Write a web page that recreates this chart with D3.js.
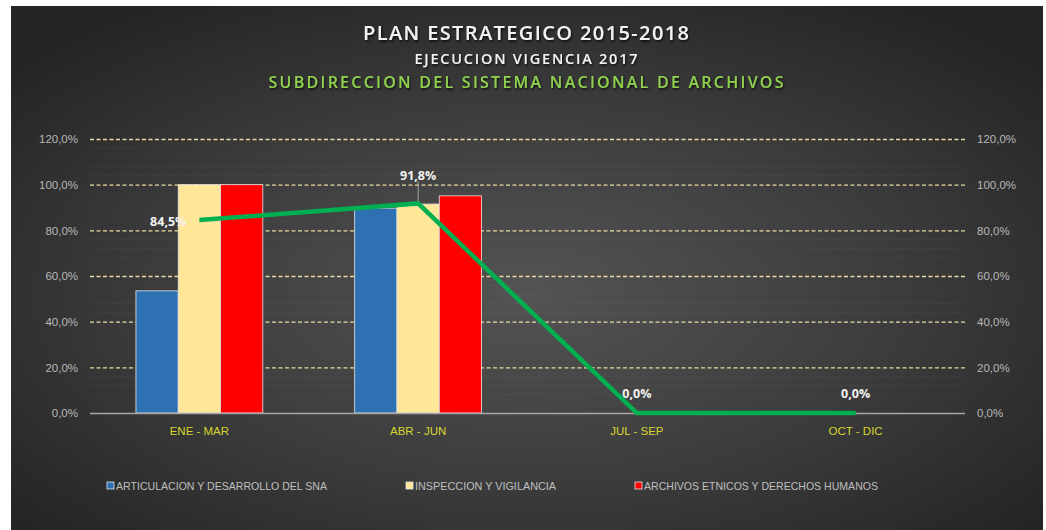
<!DOCTYPE html>
<html><head><meta charset="utf-8">
<script src="https://cdn.jsdelivr.net/npm/d3@7/dist/d3.min.js"></script>
<style>
html,body{margin:0;padding:0;background:#fff;}
svg{display:block;}
.lbl{font-family:"Liberation Sans Narrow","Arial Narrow","Liberation Sans",sans-serif;}
</style></head><body>
<svg id="chart" width="1046" height="530"></svg>
<script>
const categories = ["ENE - MAR", "ABR - JUN", "JUL - SEP", "OCT - DIC"];
const seriesNames = ["ARTICULACION Y DESARROLLO DEL SNA", "INSPECCION Y VIGILANCIA", "ARCHIVOS ETNICOS Y DERECHOS HUMANOS"];
const articulacion = [53.5, 89.7, null, null];
const inspeccion = [100, 91.5, null, null];
const archivos = [100, 95.1, null, null];
const total = [84.5, 91.8, 0, 0];
const totalLabels = ["84,5%", "91,8%", "0,0%", "0,0%"];
const yTicks = [0, 20, 40, 60, 80, 100, 120];
const colors = ["#2e71b3", "#ffe699", "#ff0000"];

const svg = d3.select("#chart");
const defs = svg.append("defs");
const rg = defs.append("radialGradient").attr("id","bg").attr("cx","50%").attr("cy","55%").attr("r","65%");
rg.append("stop").attr("offset","0%").attr("stop-color","#535353");
rg.append("stop").attr("offset","55%").attr("stop-color","#3c3c3c");
rg.append("stop").attr("offset","100%").attr("stop-color","#252525");
const sh = defs.append("filter").attr("id","shadow").attr("x","-10%").attr("y","-50%").attr("width","120%").attr("height","200%");
sh.append("feDropShadow").attr("dx",1).attr("dy",1.5).attr("stdDeviation",1.2).attr("flood-color","#000").attr("flood-opacity",0.8);

svg.append("rect").attr("x",11).attr("y",6).attr("width",1032).attr("height",524).attr("fill","url(#bg)");

// Titles
const titles = [
  {t:"PLAN ESTRATEGICO 2015-2018", y:40, size:20, len:326, fill:"#f2f2f2"},
  {t:"EJECUCION VIGENCIA 2017", y:64, size:14.5, len:223, fill:"#f2f2f2"},
  {t:"SUBDIRECCION DEL SISTEMA NACIONAL DE ARCHIVOS", y:88, size:16, len:515, fill:"#8fd14f"}
];
svg.append("g").selectAll("text").data(titles).join("text")
  .attr("x",526).attr("y",d=>d.y).attr("text-anchor","middle")
  .attr("font-family","'Open Sans',sans-serif").attr("font-weight","600").attr("font-size",d=>d.size)
  .attr("fill",d=>d.fill).attr("textLength",d=>d.len).attr("lengthAdjust","spacing")
  .attr("filter","url(#shadow)").text(d=>d.t);

const x0 = 90, x1 = 965;
const x = d3.scaleBand().domain(categories).range([x0, x1]).paddingInner(0).paddingOuter(0);
const y = d3.scaleLinear().domain([0, 120]).range([413, 139]);
const xs = d3.scaleBand().domain(seriesNames).range([0, x.bandwidth()*0.58]);
const groupOffset = x.bandwidth()*0.21;

// faint minor stripes
const minor = d3.range(4, 120, 4).filter(v => v % 20 !== 0);
svg.append("g").selectAll("line").data(minor).join("line")
  .attr("x1", x0).attr("x2", x1).attr("y1", d=>y(d)).attr("y2", d=>y(d))
  .attr("stroke","#ffffff").attr("stroke-opacity",0.035);

// grid lines
svg.append("g").selectAll("line").data(yTicks.filter(d=>d>0)).join("line")
  .attr("x1", x0).attr("x2", x1).attr("y1", d=>y(d)+0.5).attr("y2", d=>y(d)+0.5)
  .attr("stroke","#e9dba0").attr("stroke-width",1.3).attr("stroke-dasharray","4,2.5");

// axis labels via d3 axes
const fmt = d => d3.format(".1f")(d).replace(".", ",") + "%";
const yl = svg.append("g").attr("transform",`translate(${x0},0)`)
  .call(d3.axisLeft(y).tickValues(yTicks).tickFormat(fmt).tickSize(0).tickPadding(12));
const yr = svg.append("g").attr("transform",`translate(${x1},0)`)
  .call(d3.axisRight(y).tickValues(yTicks).tickFormat(fmt).tickSize(0).tickPadding(12));
[yl, yr].forEach(g => {
  g.select(".domain").remove();
  g.selectAll("text").attr("class","lbl").attr("font-size",11.5).attr("fill","#b8b8b8");
});

// bars
const series = [articulacion, inspeccion, archivos];
const barG = svg.append("g");
series.forEach((vals, si) => {
  barG.append("g").selectAll("rect")
    .data(categories.map((c,i)=>({c, v: vals[i]})).filter(d=>d.v!=null))
    .join("rect")
    .attr("x", d => x(d.c) + groupOffset + xs(seriesNames[si]))
    .attr("y", d => y(d.v))
    .attr("width", xs.bandwidth())
    .attr("height", d => y(0) - y(d.v))
    .attr("fill", colors[si]).attr("stroke","#e6e6e6").attr("stroke-width",0.8);
});

// zero axis line
svg.append("line").attr("x1",x0).attr("x2",x1).attr("y1",y(0)+0.5).attr("y2",y(0)+0.5)
  .attr("stroke","#a6a6a6").attr("stroke-width",1.3);

// category labels
const xa = svg.append("g").attr("transform",`translate(0,${y(0)})`)
  .call(d3.axisBottom(x).tickSize(0).tickPadding(14));
xa.select(".domain").remove();
xa.selectAll("text").attr("class","lbl").attr("font-size",11.5).attr("fill","#d6d62e");

// line series
const cx = c => x(c) + x.bandwidth()/2;
const lineData = categories.map((c,i)=>({c, v: total[i]}));
svg.append("path").datum(lineData)
  .attr("d", d3.line().x(d=>cx(d.c)).y(d=>y(d.v)))
  .attr("fill","none").attr("stroke","#00b050").attr("stroke-width",4.5).attr("stroke-linejoin","miter");

// leader line for 91,8%
svg.append("line").attr("x1",cx(categories[1])).attr("x2",cx(categories[1]))
  .attr("y1",y(total[1])-22).attr("y2",y(total[1])-2).attr("stroke","#a6a6a6").attr("stroke-width",1);

// data labels
const lblPos = [
  {dx:-13, dy:6, anchor:"end"},
  {dx:0, dy:-23, anchor:"middle"},
  {dx:0, dy:-15, anchor:"middle"},
  {dx:0, dy:-15, anchor:"middle"}
];
svg.append("g").selectAll("text").data(lineData).join("text")
  .attr("x",(d,i)=>cx(d.c)+lblPos[i].dx).attr("y",(d,i)=>y(d.v)+lblPos[i].dy)
  .attr("text-anchor",(d,i)=>lblPos[i].anchor)
  .attr("font-family","'Open Sans',sans-serif").attr("font-weight","bold").attr("font-size",12.5)
  .attr("fill","#f2f2f2").text((d,i)=>totalLabels[i]);

// legend
const legX = [107, 406, 635];
const legW = [211, 141, 234];
const leg = svg.append("g").selectAll("g").data(seriesNames).join("g")
  .attr("transform",(d,i)=>`translate(${legX[i]},486)`);
leg.append("rect").attr("x",0).attr("y",-4).attr("width",7).attr("height",7)
  .attr("fill",(d,i)=>colors[i]).attr("stroke","#e6e6e6").attr("stroke-width",0.8);
leg.append("text").attr("class","lbl").attr("x",9).attr("y",4).attr("font-size",11.5)
  .attr("fill","#bfbfbf").attr("textLength",(d,i)=>legW[i]).attr("lengthAdjust","spacingAndGlyphs").text(d=>d);
</script>
</body></html>
